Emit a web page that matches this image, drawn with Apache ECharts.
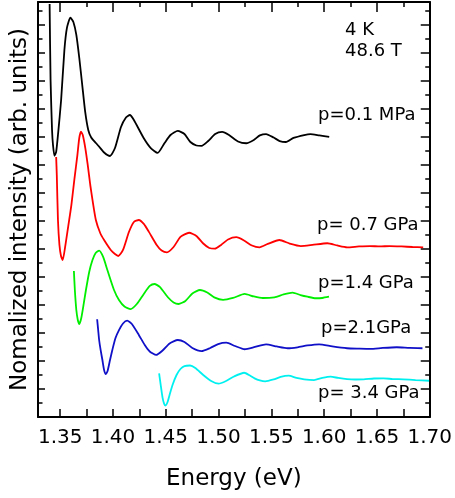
<!DOCTYPE html>
<html>
<head>
<meta charset="utf-8">
<script src="https://cdn.jsdelivr.net/npm/echarts@6/dist/echarts.min.js"></script>
<style>
html, body { margin: 0; padding: 0; background: #fff; }
#main { width: 455px; height: 498px; }
</style>
</head>
<body>
<div id="main"></div>
<script>
// energy (eV), intensity (arb. units, offset per curve)
var black = [
	[1.3400, 29.5], [1.3409, 24.07], [1.3423, 20.5], [1.3432, 19.43], [1.3446, 18.66],
	[1.3462, 18.93], [1.3481, 20.29], [1.3509, 22.64], [1.3540, 26.21], [1.3564, 27.79],
	[1.3597, 28.52], [1.3625, 28.21], [1.3653, 27.29], [1.3681, 25.64], [1.3709, 23.71],
	[1.3737, 21.79], [1.3766, 20.5], [1.3794, 19.96], [1.3838, 19.57], [1.3869, 19.31],
	[1.3916, 18.89], [1.3972, 18.64], [1.4019, 19.21], [1.4076, 20.71], [1.4123, 21.39],
	[1.4160, 21.57], [1.4198, 21.21], [1.4292, 19.91], [1.4358, 19.21], [1.4423, 18.86],
	[1.4489, 19.57], [1.4545, 20.14], [1.4614, 20.43], [1.4677, 20.21], [1.4733, 19.64],
	[1.4790, 19.39], [1.4839, 19.36], [1.4902, 19.71], [1.4968, 20.21], [1.5034, 20.36],
	[1.5099, 20.14], [1.5184, 19.68], [1.5262, 19.55], [1.5334, 19.79], [1.5391, 20.11],
	[1.5450, 20.21], [1.5522, 19.96], [1.5579, 19.71], [1.5638, 19.64], [1.5710, 19.93],
	[1.5811, 20.14], [1.5870, 20.21], [1.5955, 20.11], [1.6048, 20.0]
];
var red = [
	[1.3462, 18.57], [1.3468, 17.29], [1.3479, 14.07], [1.3493, 12.29], [1.3508, 11.5],
	[1.3524, 11.21], [1.3550, 12.29], [1.3578, 13.71], [1.3606, 15.14], [1.3634, 16.93],
	[1.3663, 18.71], [1.3681, 19.93], [1.3697, 20.38], [1.3714, 20.14], [1.3738, 19.21],
	[1.3761, 18.0], [1.3785, 16.57], [1.3806, 15.5], [1.3838, 14.07], [1.3879, 13.14],
	[1.3916, 12.64], [1.3979, 11.93], [1.4019, 11.64], [1.4050, 11.5], [1.4095, 11.93],
	[1.4151, 13.21], [1.4198, 13.93], [1.4245, 14.07], [1.4292, 13.79], [1.4339, 13.24],
	[1.4414, 12.29], [1.4461, 11.89], [1.4511, 11.76], [1.4574, 12.14], [1.4639, 12.86],
	[1.4721, 13.16], [1.4790, 12.93], [1.4855, 12.39], [1.4912, 12.07], [1.4965, 12.02],
	[1.5024, 12.29], [1.5090, 12.68], [1.5168, 12.84], [1.5241, 12.61], [1.5316, 12.25],
	[1.5388, 12.12], [1.5466, 12.36], [1.5576, 12.64], [1.5673, 12.39], [1.5779, 12.21],
	[1.5889, 12.29], [1.6030, 12.41], [1.6124, 12.25], [1.6217, 12.12], [1.6330, 12.18],
	[1.6434, 12.21], [1.6527, 12.18], [1.6621, 12.21], [1.6734, 12.18], [1.6837, 12.14],
	[1.6938, 12.12]
];
var green = [
	[1.3630, 10.43], [1.3639, 9.07], [1.3653, 7.64], [1.3667, 6.93], [1.3681, 6.64],
	[1.3700, 7.07], [1.3724, 8.14], [1.3744, 9.07], [1.3775, 10.36], [1.3806, 11.21],
	[1.3836, 11.71], [1.3869, 11.88], [1.3907, 11.43], [1.3947, 10.5], [1.4010, 9.07],
	[1.4057, 8.36], [1.4109, 7.89], [1.4167, 7.71], [1.4226, 8.07], [1.4292, 8.79],
	[1.4349, 9.36], [1.4393, 9.5], [1.4443, 9.29], [1.4527, 8.5], [1.4574, 8.18],
	[1.4621, 8.07], [1.4686, 8.29], [1.4752, 8.82], [1.4824, 9.07], [1.4893, 8.89],
	[1.4959, 8.54], [1.5043, 8.36], [1.5137, 8.5], [1.5247, 8.79], [1.5334, 8.61],
	[1.5419, 8.5], [1.5529, 8.55], [1.5616, 8.75], [1.5701, 8.88], [1.5776, 8.71],
	[1.5842, 8.59], [1.5920, 8.48], [1.5982, 8.5], [1.6046, 8.59]
];
var blue = [
	[1.3850, 6.98], [1.3860, 6.21], [1.3869, 5.5], [1.3883, 4.79], [1.3900, 4.07],
	[1.3916, 3.36], [1.3932, 3.07], [1.3949, 3.29], [1.3972, 4.07], [1.3994, 4.79],
	[1.4024, 5.64], [1.4057, 6.21], [1.4095, 6.68], [1.4135, 6.88], [1.4179, 6.64],
	[1.4245, 5.86], [1.4301, 5.14], [1.4348, 4.68], [1.4409, 4.43], [1.4470, 4.75],
	[1.4536, 5.25], [1.4614, 5.5], [1.4677, 5.36], [1.4752, 4.93], [1.4839, 4.71],
	[1.4921, 4.93], [1.4996, 5.21], [1.5074, 5.31], [1.5156, 5.07], [1.5247, 4.84],
	[1.5344, 5.0], [1.5450, 5.19], [1.5551, 5.04], [1.5654, 4.91], [1.5748, 4.98],
	[1.5842, 5.11], [1.5952, 5.19], [1.6077, 5.04], [1.6217, 4.91], [1.6330, 4.88],
	[1.6436, 4.86], [1.6556, 4.93], [1.6687, 4.98], [1.6809, 4.93], [1.6931, 4.91]
];
var cyan = [
	[1.4437, 3.12], [1.4452, 2.29], [1.4470, 1.36], [1.4484, 0.96], [1.4498, 0.82],
	[1.4517, 1.07], [1.4541, 1.71], [1.4564, 2.29], [1.4602, 3.0], [1.4639, 3.43],
	[1.4677, 3.64], [1.4730, 3.68], [1.4780, 3.5], [1.4855, 3.0], [1.4930, 2.57],
	[1.5001, 2.38], [1.5071, 2.57], [1.5146, 2.89], [1.5243, 3.16], [1.5297, 2.96],
	[1.5341, 2.76], [1.5391, 2.61], [1.5442, 2.54], [1.5522, 2.68], [1.5588, 2.86],
	[1.5663, 2.95], [1.5738, 2.79], [1.5811, 2.69], [1.5905, 2.64], [1.5983, 2.79],
	[1.6061, 2.88], [1.6133, 2.79], [1.6217, 2.71], [1.6293, 2.68], [1.6374, 2.69],
	[1.6471, 2.75], [1.6562, 2.76], [1.6650, 2.71], [1.6750, 2.69], [1.6866, 2.64],
	[1.6994, 2.59]
];

var xMajor = [1.35, 1.40, 1.45, 1.50, 1.55, 1.60, 1.65, 1.70];
var xMinor = [1.375, 1.425, 1.475, 1.525, 1.575, 1.625, 1.675];
var xMin = 1.329, xMax = 1.70;
var yMin = 0, yMax = 29.64;

var FONT = '"DejaVu Sans", sans-serif';

function xAxisOf(pos, ticks, len, showLine, labels) {
	return {
		type: 'value', position: pos, min: xMin, max: xMax,
		axisLine: { show: showLine, onZero: false, lineStyle: { color: '#000', width: 2 } },
		axisTick: { inside: true, length: len, customValues: ticks, lineStyle: { color: '#000', width: 1.5 } },
		axisLabel: labels ? {
			customValues: labels, margin: 11, color: '#000', fontSize: 20, fontFamily: FONT,
			formatter: function (v) { return v.toFixed(2); }
		} : { show: false },
		splitLine: { show: false }
	};
}

function yAxisOf(pos, interval, len, showLine) {
	return {
		type: 'value', position: pos, min: yMin, max: yMax, interval: interval,
		axisLine: { show: showLine, onZero: false, lineStyle: { color: '#000', width: 2 } },
		axisTick: { inside: true, length: len, lineStyle: { color: '#000', width: 1.5 } },
		axisLabel: { show: false },
		splitLine: { show: false }
	};
}

function lineOf(data, color) {
	return {
		type: 'line', data: data, smooth: 0.2, showSymbol: false, symbol: 'none',
		xAxisIndex: 0, yAxisIndex: 0,
		lineStyle: { color: color, width: 1.8 }, silent: true
	};
}

function label(text, x, y) {
	return {
		type: 'text', x: x, y: y,
		style: { text: text, fill: '#000', font: '18px ' + FONT, verticalAlign: 'middle' }
	};
}

var chart = echarts.init(document.getElementById('main'));

var bottomX = xAxisOf('bottom', xMajor.concat(xMinor), 8, true, xMajor);
bottomX.name = 'Energy (eV)';
bottomX.nameLocation = 'middle';
bottomX.nameGap = 51;
bottomX.nameTextStyle = { color: '#000', fontSize: 23, fontFamily: FONT };

var leftY = yAxisOf('left', 1, 4.5, true);
leftY.name = 'Nomalized intensity (arb. units)';
leftY.nameLocation = 'middle';
leftY.nameGap = 6;
leftY.nameTextStyle = { color: '#000', fontSize: 23, fontFamily: FONT };

chart.setOption({
	animation: false,
	backgroundColor: '#fff',
	grid: { left: 38, right: 22, top: 2, bottom: 81 },
	xAxis: [
		bottomX,
		xAxisOf('top', xMajor, 10, true, null),
		xAxisOf('top', xMinor, 5, false, null)
	],
	yAxis: [
		leftY,
		yAxisOf('left', 2, 7, false),
		yAxisOf('right', 1, 4.5, true),
		yAxisOf('right', 2, 9, false)
	],
	series: [
		lineOf(black, '#000000'),
		lineOf(red, '#ff0000'),
		lineOf(green, '#00ee00'),
		lineOf(blue, '#1010c8'),
		lineOf(cyan, '#00f0f0')
	],
	graphic: [
		label('4 K', 345, 30),
		label('48.6 T', 345, 51),
		label('p=0.1 MPa', 318, 115),
		label('p= 0.7 GPa', 317, 225),
		label('p=1.4 GPa', 318, 283),
		label('p=2.1GPa', 321, 328.5),
		label('p= 3.4 GPa', 318, 393.5)
	]
});
</script>
</body>
</html>
